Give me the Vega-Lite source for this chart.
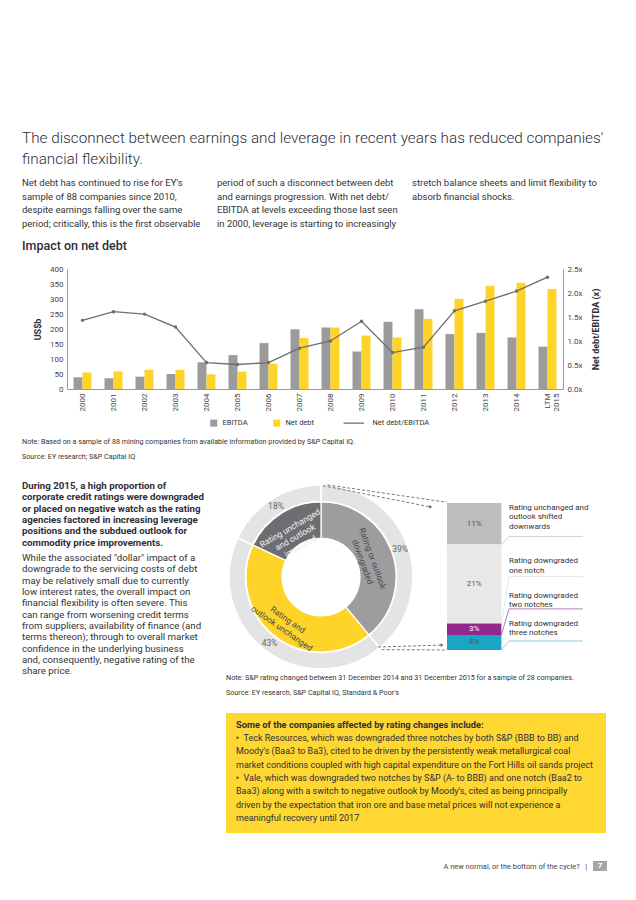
{
  "$schema": "https://vega.github.io/schema/vega-lite/v6.json",
  "background": "white",
  "padding": {"left": 22, "top": 130, "right": 10, "bottom": 5},
  "config": {
    "font": "Roboto",
    "view": {"stroke": null},
    "title": {"anchor": "start", "fontWeight": "normal", "color": "#2e2e38", "subtitleColor": "#333333", "offset": 0, "font": "Roboto", "subtitleFont": "Roboto"},
    "axis": {"labelFont": "Roboto", "titleFont": "Roboto", "labelColor": "#444444", "titleColor": "#2e2e38", "domainColor": "#9a9a9a", "ticks": false, "grid": false},
    "legend": {"labelFont": "Roboto"},
    "text": {"font": "Roboto"}
  },
  "datasets": {
    "netdebt": [
      {"year": "2000", "EBITDA": 39, "Net debt": 55, "ratio": 1.43},
      {"year": "2001", "EBITDA": 36, "Net debt": 59, "ratio": 1.61},
      {"year": "2002", "EBITDA": 41, "Net debt": 64, "ratio": 1.56},
      {"year": "2003", "EBITDA": 50, "Net debt": 64, "ratio": 1.29},
      {"year": "2004", "EBITDA": 89, "Net debt": 49, "ratio": 0.55},
      {"year": "2005", "EBITDA": 113, "Net debt": 58, "ratio": 0.51},
      {"year": "2006", "EBITDA": 153, "Net debt": 84, "ratio": 0.55},
      {"year": "2007", "EBITDA": 199, "Net debt": 170, "ratio": 0.85},
      {"year": "2008", "EBITDA": 205, "Net debt": 205, "ratio": 1.0},
      {"year": "2009", "EBITDA": 125, "Net debt": 178, "ratio": 1.41},
      {"year": "2010", "EBITDA": 224, "Net debt": 172, "ratio": 0.76},
      {"year": "2011", "EBITDA": 266, "Net debt": 234, "ratio": 0.87},
      {"year": "2012", "EBITDA": 183, "Net debt": 300, "ratio": 1.63},
      {"year": "2013", "EBITDA": 187, "Net debt": 344, "ratio": 1.83},
      {"year": "2014", "EBITDA": 172, "Net debt": 354, "ratio": 2.04},
      {"year": "LTM 2015", "EBITDA": 141, "Net debt": 333, "ratio": 2.33}
    ],
    "donut": [
      {"seg": "Rating or outlook downgraded", "pct": 39, "ord": 1, "lab": "39%", "inner": "Rating or outlook\ndowngraded"},
      {"seg": "Rating and outlook unchanged", "pct": 43, "ord": 2, "lab": "43%", "inner": "Rating and\noutlook unchanged"},
      {"seg": "Rating unchanged and outlook improved", "pct": 18, "ord": 3, "lab": "18%", "inner": "Rating unchanged\nand outlook\nimproved"}
    ],
    "split": [
      {"cat": "Rating unchanged and outlook shifted downwards", "label": "Rating unchanged and\noutlook shifted\ndownwards", "pct": 11, "txt": "11%", "idx": 1},
      {"cat": "Rating downgraded one notch", "label": "Rating downgraded\none notch", "pct": 21, "txt": "21%", "idx": 2},
      {"cat": "Rating downgraded two notches", "label": "Rating downgraded\ntwo notches", "pct": 3, "txt": "3%", "idx": 3},
      {"cat": "Rating downgraded three notches", "label": "Rating downgraded\nthree notches", "pct": 4, "txt": "4%", "idx": 4}
    ]
  },
  "concat": [
    {"width": 500, "height": 1, "data": {"values": []}, "mark": "text",
     "title": {"text": ["The disconnect between earnings and leverage in recent years has reduced companies'", "financial flexibility."], "orient": "bottom", "fontSize": 15.3, "fontWeight": 300, "lineHeight": 20.5, "color": "#2e2e38", "dx": -45, "offset": 0}},
    {
      "concat": [
        {"width": 150, "height": 1, "data": {"values": []}, "mark": "text",
         "title": {"text": ["Net debt has continued to rise for EY's", "sample of 88 companies since 2010,", "despite earnings falling over the same", "period; critically, this is the first observable"], "orient": "bottom", "offset": 0, "dx": -45, "fontSize": 9.5, "lineHeight": 13.7, "color": "#333333"}},
        {"width": 195, "height": 1, "data": {"values": []}, "mark": "text",
         "title": {"text": ["period of such a disconnect between debt", "and earnings progression. With net debt/", "EBITDA at levels exceeding those last seen", "in 2000, leverage is starting to increasingly"], "orient": "bottom", "offset": 0, "fontSize": 9.5, "lineHeight": 13.7, "color": "#333333"}},
        {"width": 190, "height": 1, "data": {"values": []}, "mark": "text",
         "title": {"text": ["stretch balance sheets and limit flexibility to", "absorb financial shocks."], "orient": "bottom", "offset": 0, "fontSize": 9.5, "lineHeight": 13.7, "color": "#333333"}}
      ],
      "columns": 3, "align": "none", "spacing": 0
    },
    {
      "width": 496, "height": 120,
      "title": {"text": "Impact on net debt", "fontSize": 12.5, "fontWeight": 500, "color": "#2e2e38", "anchor": "start", "frame": "group", "dx": -45, "offset": 13},
      "data": {"name": "netdebt"},
      "layer": [
        {
          "transform": [{"fold": ["EBITDA", "Net debt"], "as": ["series", "value"]}],
          "mark": {"type": "bar"},
          "encoding": {
            "x": {"field": "year", "type": "nominal", "sort": null, "title": null,
                  "scale": {"paddingInner": 0.42, "paddingOuter": 0.21},
                  "axis": {"labelAngle": -90, "labelFontSize": 8, "labelPadding": 4, "labelLineHeight": 9, "domainColor": "#9a9a9a",
                           "labelExpr": "datum.value === 'LTM 2015' ? ['LTM', '2015'] : datum.label"}},
            "xOffset": {"field": "series", "type": "nominal", "sort": ["EBITDA", "Net debt"]},
            "y": {"field": "value", "type": "quantitative", "scale": {"domain": [0, 400]},
                  "axis": {"title": "US$b", "titleFontSize": 9, "titleFontWeight": "bold", "titlePadding": 7, "values": [0, 50, 100, 150, 200, 250, 300, 350, 400], "labelFontSize": 8, "labelPadding": 4}},
            "color": {"field": "series", "type": "nominal",
                      "scale": {"domain": ["EBITDA", "Net debt", "Net debt/EBITDA"], "range": ["#9b9b9b", "#ffd429", "#6d6e71"]},
                      "legend": {"orient": "none", "legendX": 143, "legendY": 150, "direction": "horizontal", "title": null,
                                 "labelFontSize": 7.5, "labelColor": "#333333", "labelOffset": 5, "columnPadding": 25, "symbolSize": 50,
                                 "encode": {
                                   "symbols": {"update": {
                                     "shape": {"signal": "datum.value === 'Net debt/EBITDA' ? 'stroke' : 'square'"},
                                     "size": {"signal": "datum.value === 'Net debt/EBITDA' ? 420 : 50"},
                                     "stroke": {"signal": "datum.value === 'Net debt/EBITDA' ? '#6d6e71' : 'transparent'"},
                                     "strokeWidth": {"signal": "datum.value === 'Net debt/EBITDA' ? 1.3 : 0"},
                                     "dx": {"signal": "datum.value === 'Net debt/EBITDA' ? 2 : 0"}
                                   }},
                                   "labels": {"update": {
                                     "dx": {"signal": "datum.value === 'Net debt/EBITDA' ? 10 : 0"}
                                   }}
                                 }}}
          }
        },
        {
          "mark": {"type": "line", "strokeWidth": 1.3, "point": {"filled": true, "size": 12}},
          "encoding": {
            "x": {"field": "year", "type": "nominal", "sort": null},
            "y": {"field": "ratio", "type": "quantitative", "scale": {"domain": [0, 2.5]},
                  "axis": {"orient": "right", "title": "Net debt/EBITDA (x)", "titleAngle": 270, "titleBaseline": "top", "titleFontSize": 9, "titleFontWeight": "bold", "titlePadding": 9,
                           "values": [0, 0.5, 1, 1.5, 2, 2.5], "labelExpr": "format(datum.value, '.1f') + 'x'", "labelFontSize": 8, "labelPadding": 4}},
            "color": {"datum": "Net debt/EBITDA"}
          }
        }
      ],
      "resolve": {"scale": {"y": "independent"}}
    },
    {
      "width": 400, "height": 7, "data": {"values": []}, "mark": "text",
      "title": {"text": ["Note: Based on a sample of 88 mining companies from available information provided by S&P Capital IQ.", "Source: EY research; S&P Capital IQ"], "dx": -45, "fontSize": 7.2, "lineHeight": 15, "color": "#333333"}
    },
    {
      "concat": [
        {
          "concat": [
            {
              "width": 145, "height": 1, "data": {"values": []}, "mark": "text",
              "title": {
                "text": ["During 2015, a high proportion of", "corporate credit ratings were downgraded", "or placed on negative watch as the rating", "agencies factored in increasing leverage", "positions and the subdued outlook for", "commodity price improvements."],
                "orient": "bottom", "dx": -45, "offset": -2,
                "fontSize": 9.7, "fontWeight": "bold", "lineHeight": 11.3, "color": "#2e2e38",
                "subtitle": ["While the associated \"dollar\" impact of a", "downgrade to the servicing costs of debt", "may be relatively small due to currently", "low interest rates, the overall impact on", "financial flexibility is often severe. This", "can range from worsening credit terms", "from suppliers; availability of finance (and", "terms thereon); through to overall market", "confidence in the underlying business", "and, consequently, negative rating of the", "share price."],
                "subtitleFontSize": 9.7, "subtitleLineHeight": 11.3, "subtitlePadding": 6, "subtitleColor": "#333333"
              }
            },
            {
              "concat": [
                {
                  "concat": [
                    {
                      "width": 190, "height": 190,
                      "data": {"name": "donut"},
                      "encoding": {
                        "theta": {"field": "pct", "type": "quantitative", "stack": true, "scale": {"domain": [0, 100]}},
                        "order": {"field": "ord", "type": "quantitative"}
                      },
                      "layer": [
                        {"mark": {"type": "arc", "innerRadius": 75.5, "outerRadius": 92, "fill": "#e4e4e4", "stroke": "white", "strokeWidth": 1.5},
                         "encoding": {"detail": {"field": "seg", "type": "nominal"}}},
                        {"mark": {"type": "arc", "innerRadius": 39, "outerRadius": 75, "stroke": "white", "strokeWidth": 1.2},
                         "encoding": {"color": {"field": "seg", "type": "nominal", "legend": null,
                                                "scale": {"domain": ["Rating or outlook downgraded", "Rating and outlook unchanged", "Rating unchanged and outlook improved"], "range": ["#9d9d9f", "#ffd429", "#6e6e72"]}}}},
                        {"mark": {"type": "text", "radius": 84, "fontSize": 8.5, "color": "#666666"},
                         "encoding": {"detail": {"field": "seg", "type": "nominal"}, "text": {"field": "lab", "type": "nominal"}}},
                        {"mark": {"type": "text", "radius": 55, "angle": 70, "fontSize": 8.5, "lineBreak": "\n", "color": "#4a4a4c"},
                         "encoding": {"detail": {"field": "seg", "type": "nominal"}, "text": {"condition": {"test": "datum.ord === 1", "field": "inner"}, "value": ""}}},
                        {"mark": {"type": "text", "radius": 54, "angle": 35, "fontSize": 8.5, "lineBreak": "\n", "color": "#4a4a4c"},
                         "encoding": {"detail": {"field": "seg", "type": "nominal"}, "text": {"condition": {"test": "datum.ord === 2", "field": "inner"}, "value": ""}}},
                        {"mark": {"type": "text", "radius": 58, "angle": 330, "fontSize": 8.5, "lineBreak": "\n", "color": "#eeeeee"},
                         "encoding": {"detail": {"field": "seg", "type": "nominal"}, "text": {"condition": {"test": "datum.ord === 3", "field": "inner"}, "value": ""}}}
                      ]
                    },
                    {
                      "width": 174, "height": 190,
                      "data": {"name": "split"},
                      "transform": [
                        {"stack": "pct", "groupby": [], "sort": [{"field": "idx", "order": "ascending"}], "as": ["y0", "y1"]},
                        {"calculate": "(datum.y0 + datum.y1) / 2", "as": "mid"}
                      ],
                      "layer": [
                        {"mark": {"type": "rect"},
                         "encoding": {
                           "x": {"datum": 0, "type": "quantitative", "scale": {"domain": [0, 3.2], "nice": false, "zero": false}, "axis": null},
                           "x2": {"datum": 1},
                           "y": {"field": "y0", "type": "quantitative", "scale": {"domain": [-5.57, 44.84], "nice": false, "zero": false, "reverse": true}, "axis": null},
                           "y2": {"field": "y1"},
                           "color": {"field": "cat", "type": "nominal", "legend": null,
                                     "scale": {"domain": ["Rating unchanged and outlook shifted downwards", "Rating downgraded one notch", "Rating downgraded two notches", "Rating downgraded three notches"], "range": ["#bdbdbf", "#e8e8e9", "#92278f", "#19a5c3"]}}
                         }},
                        {"mark": {"type": "text", "fontSize": 8, "baseline": "middle"},
                         "encoding": {
                           "x": {"datum": 0.5, "type": "quantitative"},
                           "y": {"field": "mid", "type": "quantitative"},
                           "text": {"field": "txt", "type": "nominal"},
                           "color": {"condition": {"test": "datum.idx === 3", "value": "#ffffff"}, "value": "#555555"}
                         }},
                        {"transform": [{"filter": "datum.idx === 1"}],
                         "mark": {"type": "text", "align": "left", "baseline": "top", "dy": 1, "fontSize": 8, "lineHeight": 9.5, "lineBreak": "\n", "color": "#333333"},
                         "encoding": {"x": {"datum": 1.14, "type": "quantitative"}, "y": {"field": "y0", "type": "quantitative"}, "text": {"field": "label"}}},
                        {"transform": [{"filter": "datum.idx === 2"}],
                         "mark": {"type": "text", "align": "left", "baseline": "top", "dy": 13, "fontSize": 8, "lineHeight": 9.5, "lineBreak": "\n", "color": "#333333"},
                         "encoding": {"x": {"datum": 1.14, "type": "quantitative"}, "y": {"field": "y0", "type": "quantitative"}, "text": {"field": "label"}}},
                        {"transform": [{"filter": "datum.idx === 3"}],
                         "mark": {"type": "text", "align": "left", "baseline": "top", "dy": -32, "fontSize": 8, "lineHeight": 9.5, "lineBreak": "\n", "color": "#333333"},
                         "encoding": {"x": {"datum": 1.14, "type": "quantitative"}, "y": {"field": "y0", "type": "quantitative"}, "text": {"field": "label"}}},
                        {"transform": [{"filter": "datum.idx === 4"}],
                         "mark": {"type": "text", "align": "left", "baseline": "top", "dy": -15, "fontSize": 8, "lineHeight": 9.5, "lineBreak": "\n", "color": "#333333"},
                         "encoding": {"x": {"datum": 1.14, "type": "quantitative"}, "y": {"field": "y0", "type": "quantitative"}, "text": {"field": "label"}}},
                        {"transform": [{"filter": "datum.idx === 1"}],
                         "mark": {"type": "rule", "color": "#c8c8ca", "strokeWidth": 0.8, "y2Offset": -8},
                         "encoding": {"x": {"datum": 1, "type": "quantitative"}, "x2": {"datum": 1.14}, "y": {"field": "y1", "type": "quantitative"}, "y2": {"field": "y1"}}},
                        {"transform": [{"filter": "datum.idx === 1"}],
                         "mark": {"type": "rule", "color": "#c8c8ca", "strokeWidth": 0.8, "yOffset": -8},
                         "encoding": {"x": {"datum": 1.14, "type": "quantitative"}, "x2": {"datum": 2.5}, "y": {"field": "y1", "type": "quantitative"}}},
                        {"transform": [{"filter": "datum.idx === 2"}],
                         "mark": {"type": "rule", "color": "#e0e0e2", "strokeWidth": 0.8, "y2Offset": -47},
                         "encoding": {"x": {"datum": 1, "type": "quantitative"}, "x2": {"datum": 1.14}, "y": {"field": "y1", "type": "quantitative"}, "y2": {"field": "y1"}}},
                        {"transform": [{"filter": "datum.idx === 2"}],
                         "mark": {"type": "rule", "color": "#e0e0e2", "strokeWidth": 0.8, "yOffset": -47},
                         "encoding": {"x": {"datum": 1.14, "type": "quantitative"}, "x2": {"datum": 2.5}, "y": {"field": "y1", "type": "quantitative"}}},
                        {"transform": [{"filter": "datum.idx === 3"}],
                         "mark": {"type": "rule", "color": "#a55ba3", "strokeWidth": 0.8, "y2Offset": -26},
                         "encoding": {"x": {"datum": 1, "type": "quantitative"}, "x2": {"datum": 1.14}, "y": {"field": "y1", "type": "quantitative"}, "y2": {"field": "y1"}}},
                        {"transform": [{"filter": "datum.idx === 3"}],
                         "mark": {"type": "rule", "color": "#a55ba3", "strokeWidth": 0.8, "yOffset": -26},
                         "encoding": {"x": {"datum": 1.14, "type": "quantitative"}, "x2": {"datum": 2.5}, "y": {"field": "y1", "type": "quantitative"}}},
                        {"transform": [{"filter": "datum.idx === 4"}],
                         "mark": {"type": "rule", "color": "#6cc5d9", "strokeWidth": 0.8, "y2Offset": -9},
                         "encoding": {"x": {"datum": 1, "type": "quantitative"}, "x2": {"datum": 1.14}, "y": {"field": "y1", "type": "quantitative"}, "y2": {"field": "y1"}}},
                        {"transform": [{"filter": "datum.idx === 4"}],
                         "mark": {"type": "rule", "color": "#6cc5d9", "strokeWidth": 0.8, "yOffset": -9},
                         "encoding": {"x": {"datum": 1.14, "type": "quantitative"}, "x2": {"datum": 2.5}, "y": {"field": "y1", "type": "quantitative"}}},
                        {"transform": [{"filter": "datum.idx === 1"}],
                         "mark": {"type": "rule", "color": "#7a7a7c", "strokeWidth": 1, "strokeDash": [3, 2]},
                         "encoding": {"x": {"datum": -2.28, "type": "quantitative"}, "x2": {"datum": -0.3}, "y": {"datum": -4.6, "type": "quantitative"}, "y2": {"datum": 1.06}}},
                        {"transform": [{"filter": "datum.idx === 1"}],
                         "mark": {"type": "rule", "color": "#7a7a7c", "strokeWidth": 1, "strokeDash": [3, 2]},
                         "encoding": {"x": {"datum": -2.2, "type": "quantitative"}, "x2": {"datum": 0}, "y": {"datum": -4.8, "type": "quantitative"}, "y2": {"datum": -0.2}}},
                        {"transform": [{"filter": "datum.idx === 1"}],
                         "mark": {"type": "rule", "color": "#7a7a7c", "strokeWidth": 1, "strokeDash": [3, 2]},
                         "encoding": {"x": {"datum": -1.27, "type": "quantitative"}, "x2": {"datum": -0.09}, "y": {"datum": 38.2, "type": "quantitative"}, "y2": {"datum": 37.7}}},
                        {"transform": [{"filter": "datum.idx === 1"}],
                         "mark": {"type": "rule", "color": "#7a7a7c", "strokeWidth": 1, "strokeDash": [3, 2]},
                         "encoding": {"x": {"datum": -1.2, "type": "quantitative"}, "x2": {"datum": 0}, "y": {"datum": 38.9, "type": "quantitative"}, "y2": {"datum": 39}}},
                        {"transform": [{"filter": "datum.idx === 1"}],
                         "mark": {"type": "point", "shape": "triangle-right", "filled": true, "size": 14, "color": "#6d6e71", "opacity": 1, "angle": 10},
                         "encoding": {"x": {"datum": -0.3, "type": "quantitative"}, "y": {"datum": 1.06, "type": "quantitative"}}},
                        {"transform": [{"filter": "datum.idx === 1"}],
                         "mark": {"type": "point", "shape": "triangle-right", "filled": true, "size": 14, "color": "#6d6e71", "opacity": 1},
                         "encoding": {"x": {"datum": -0.09, "type": "quantitative"}, "y": {"datum": 37.7, "type": "quantitative"}}}
                      ]
                    }
                  ],
                  "columns": 2, "align": "none", "spacing": -94,
                  "resolve": {"scale": {"color": "independent", "theta": "independent"}, "legend": {"color": "independent"}}
                },
                {
                  "width": 380, "height": 12, "data": {"values": []}, "mark": "text",
                  "title": {"text": ["Note: S&P rating changed between 31 December 2014 and 31 December 2015 for a sample of 28 companies.", "Source: EY research, S&P Capital IQ, Standard & Poor's"], "fontSize": 7.2, "lineHeight": 15, "color": "#333333"}
                },
                {
                  "width": 380, "height": 120, "view": {"fill": "#ffd733", "stroke": null},
                  "data": {"values": []}, "mark": "text",
                  "title": {
                    "text": "Some of the companies affected by rating changes include:",
                    "fontSize": 9.3, "fontWeight": "bold", "color": "#2e2e38", "offset": -110, "dx": 10,
                    "subtitle": ["\u2023\u00a0\u00a0Teck Resources, which was downgraded three notches by both S&P (BBB to BB) and", "\u00a0\u00a0\u00a0\u00a0Moody's (Baa3 to Ba3), cited to be driven by the persistently weak metallurgical coal", "\u00a0\u00a0\u00a0\u00a0market conditions coupled with high capital expenditure on the Fort Hills oil sands project", "\u2023\u00a0\u00a0Vale, which was downgraded two notches by S&P (A- to BBB) and one notch (Baa2 to", "\u00a0\u00a0\u00a0\u00a0Baa3) along with a switch to negative outlook by Moody's, cited as being principally", "\u00a0\u00a0\u00a0\u00a0driven by the expectation that iron ore and base metal prices will not experience a", "\u00a0\u00a0\u00a0\u00a0meaningful recovery until 2017"],
                    "subtitleFontSize": 9, "subtitleLineHeight": 13.3, "subtitlePadding": 4, "subtitleColor": "#2e2e38"
                  }
                }
              ],
              "columns": 1, "align": "none", "spacing": 1,
              "resolve": {"scale": {"color": "independent", "theta": "independent"}, "legend": {"color": "independent"}}
            }
          ],
          "columns": 2, "align": "none", "spacing": 14,
          "resolve": {"scale": {"color": "independent", "theta": "independent"}, "legend": {"color": "independent"}}
        },
        {
          "concat": [
            {"width": 520, "height": 10, "data": {"values": []}, "mark": "text",
             "title": {"text": "A new normal, or the bottom of the cycle?\u00a0\u00a0 |", "anchor": "end", "frame": "group", "fontSize": 7.4, "color": "#444444", "offset": -9}},
            {"width": 14, "height": 10, "view": {"fill": "#a5a6a8", "stroke": null},
             "data": {"values": [{"t": "7"}]},
             "mark": {"type": "text", "color": "white", "fontSize": 8, "fontWeight": "bold"},
             "encoding": {"text": {"field": "t", "type": "nominal"}}}
          ],
          "columns": 2, "align": "none", "spacing": 6
        }
      ],
      "columns": 1, "align": "none", "spacing": 28,
      "resolve": {"scale": {"color": "independent", "theta": "independent"}, "legend": {"color": "independent"}}
    }
  ],
  "columns": 1, "align": "none", "spacing": 10,
  "resolve": {"scale": {"color": "independent", "theta": "independent"}, "legend": {"color": "independent"}}
}
